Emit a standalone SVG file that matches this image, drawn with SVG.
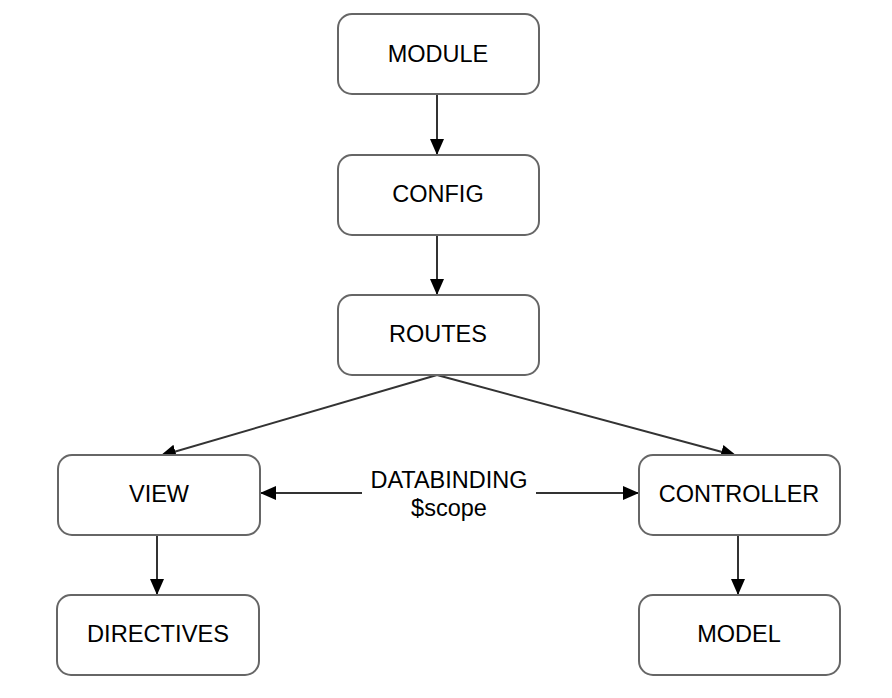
<svg xmlns="http://www.w3.org/2000/svg" width="892" height="698" viewBox="0 0 892 698">
<defs>
<style>
.box{fill:#fff;stroke:#666;stroke-width:2}
.lbl{font-family:"Liberation Sans",Arial,sans-serif;font-size:23.5px;fill:#000;text-anchor:middle;dominant-baseline:central}
.ln{stroke:#333;stroke-width:2;fill:none}
</style>
<marker id="ah" markerWidth="16" markerHeight="14" refX="16" refY="7" orient="auto" markerUnits="userSpaceOnUse" viewBox="0 0 16 14">
<path d="M0,0 L16,7 L0,14 Z" fill="#000"/>
</marker>
</defs>
<rect width="892" height="698" fill="#fff"/>
<g id="connectors">
<line class="ln" x1="437" y1="94" x2="437" y2="155" marker-end="url(#ah)"/>
<line class="ln" x1="437" y1="235" x2="437" y2="295" marker-end="url(#ah)"/>
<line class="ln" x1="437" y1="375" x2="160" y2="456" marker-end="url(#ah)"/>
<line class="ln" x1="437" y1="375" x2="737" y2="456" marker-end="url(#ah)"/>
<line class="ln" x1="362" y1="493" x2="260" y2="493" marker-end="url(#ah)"/>
<line class="ln" x1="536" y1="493" x2="639" y2="493" marker-end="url(#ah)"/>
<line class="ln" x1="157" y1="535" x2="157" y2="595" marker-end="url(#ah)"/>
<line class="ln" x1="738" y1="535" x2="738" y2="595" marker-end="url(#ah)"/>
</g>
<g id="module"><rect class="box" x="338" y="14" width="201" height="80" rx="14"/><text class="lbl" x="438" y="54">MODULE</text></g>
<g id="config"><rect class="box" x="338" y="155" width="201" height="80" rx="14"/><text class="lbl" x="438" y="194">CONFIG</text></g>
<g id="routes"><rect class="box" x="338" y="295" width="201" height="80" rx="14"/><text class="lbl" x="438" y="334">ROUTES</text></g>
<g id="view"><rect class="box" x="58" y="455" width="202" height="80" rx="14"/><text class="lbl" x="159" y="494">VIEW</text></g>
<g id="controller"><rect class="box" x="639" y="455" width="201" height="80" rx="14"/><text class="lbl" x="739" y="494">CONTROLLER</text></g>
<g id="directives"><rect class="box" x="57" y="595" width="202" height="80" rx="14"/><text class="lbl" x="158" y="634" textLength="142" lengthAdjust="spacingAndGlyphs">DIRECTIVES</text></g>
<g id="model"><rect class="box" x="639" y="595" width="201" height="80" rx="14"/><text class="lbl" x="739" y="634">MODEL</text></g>
<g id="databinding"><text class="lbl" x="449" y="480">DATABINDING</text><text class="lbl" x="449" y="508">$scope</text></g>
</svg>
